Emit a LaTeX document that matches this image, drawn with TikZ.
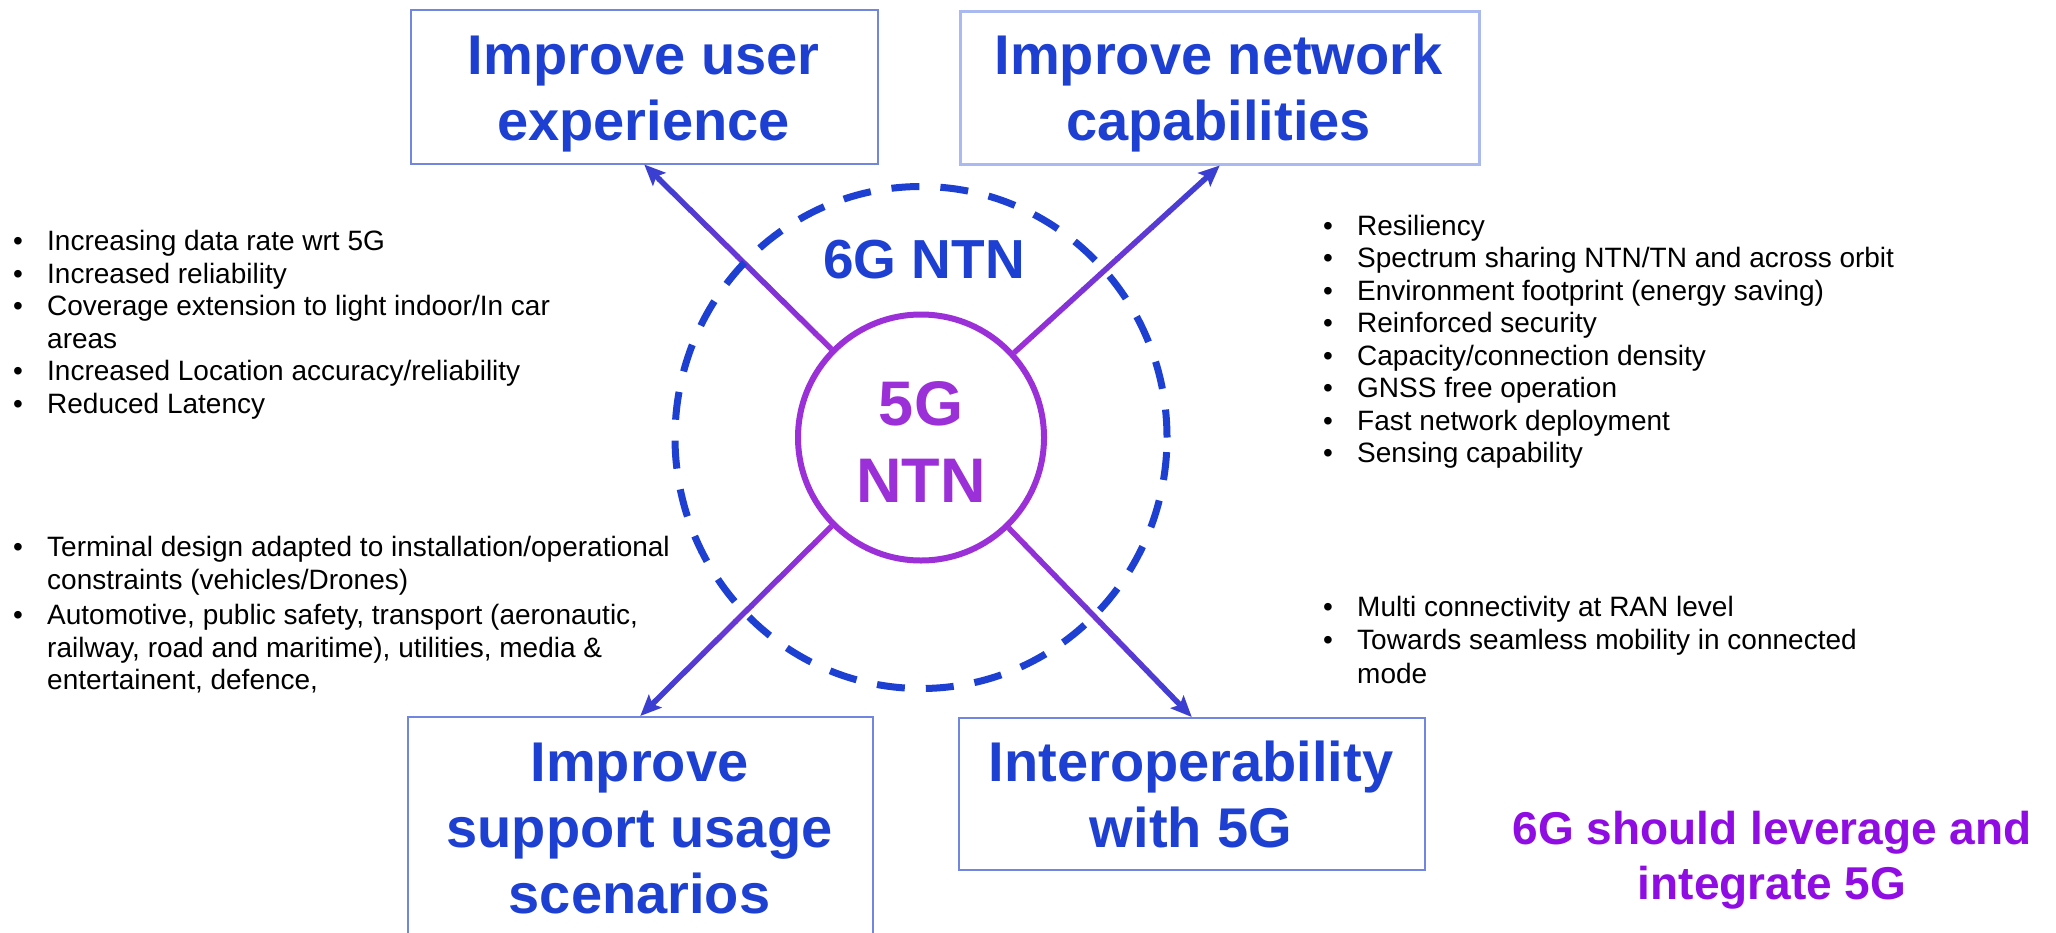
\documentclass[tikz,border=0pt]{standalone}
\usepackage{fontspec}
\setmainfont{Liberation Sans}
\usetikzlibrary{arrows.meta,calc,shapes.geometric}
\definecolor{tblue}{RGB}{30,64,210}
\definecolor{npurple}{RGB}{155,47,216}
\definecolor{ablue}{RGB}{58,63,210}
\definecolor{dblue}{RGB}{30,64,210}
\definecolor{bordblue}{RGB}{112,134,224}
\definecolor{bordlight}{RGB}{170,186,240}
\definecolor{lpurple}{RGB}{143,12,226}
\newcommand\bul{\makebox[34pt][l]{•}}
\newcommand\cont{\hspace*{34pt}}
\tikzset{
  goalbox/.style={draw=bordblue, line width=1.5pt, inner sep=0pt, anchor=north west},
  goaltext/.style={text=tblue, anchor=base, inner sep=0pt, font=\bfseries\fontsize{56}{66}\selectfont},
  bullets/.style={anchor=base west, inner sep=0pt, text=black, font=\fontsize{28}{32.5}\selectfont},
  arrowline/.style={line width=5.5pt, line cap=butt},
}
\newcommand\gradarrow[3]{%
  \path (#1) -- (#2) coordinate[pos=0] (#3a) coordinate[pos=1] (#3b);
  \foreach \kk in {0,...,10}{%
    \pgfmathsetmacro\pa{\kk/12}%
    \pgfmathsetmacro\pb{(\kk+1)/12+0.004}%
    \pgfmathtruncatemacro\mx{100-\kk*9}%
    \draw[arrowline, draw=npurple!\mx!ablue] ($(#3a)!\pa!(#3b)$) -- ($(#3a)!\pb!(#3b)$);
  }%
  \draw[arrowline, draw=ablue, -{Stealth[length=21pt,width=18pt,inset=4pt]}] ($(#3a)!0.9166!(#3b)$) -- (#3b);
}
\begin{document}
\begin{tikzpicture}[x=1pt,y=-1pt]
\useasboundingbox (0,0) rectangle (2056,932);
\fill[white] (0,0) rectangle (2056,932);
\clip (0,0) rectangle (2056,932);

% goal boxes
\node[goalbox, minimum width=467pt, minimum height=154pt] (ue) at (410,9) {};
\node[goalbox, draw=bordlight, line width=2.5pt, minimum width=519pt, minimum height=153pt] (nc) at (959,10) {};
\node[goalbox, minimum width=465pt, minimum height=222pt] (su) at (407,716) {};
\node[goalbox, minimum width=466pt, minimum height=152pt] (io) at (958,717) {};

\node[goaltext] (ueT) at (643.5,74) {\parbox[t]{460pt}{\centering Improve user\\experience}};
\node[goaltext] (ncT) at (1218.5,74) {\parbox[t]{510pt}{\centering Improve network\\capabilities}};
\node[goaltext] (suT) at (639.5,781) {\parbox[t]{460pt}{\centering Improve\\support usage\\scenarios}};
\node[goaltext] (ioT) at (1191,781) {\parbox[t]{460pt}{\centering Interoperability\\with 5G}};

% central 5G NTN
\node[circle, draw=npurple, line width=6pt, minimum size=246pt, inner sep=0pt] (c5) at (921,437.5) {};
\node[anchor=base, inner sep=0pt, text=npurple, font=\bfseries\fontsize{63}{77}\selectfont] (c5T) at (921,425) {\parbox[t]{200pt}{\centering 5G\\NTN}};

% arrows
\gradarrow{c5}{ue.south}{aue}
\gradarrow{c5}{nc.south}{anc}
\gradarrow{c5}{su.north}{asu}
\gradarrow{c5}{io.north}{aio}

% 6G NTN dashed
\node[ellipse, draw=dblue, line width=7pt, dash pattern=on 28pt off 21pt, minimum width=492pt, minimum height=502pt, inner sep=0pt] (c6) at (921,437.5) {};
\node[anchor=base, inner sep=0pt, text=tblue, font=\bfseries\fontsize{55}{60}\selectfont] (c6T) at (924,278.5) {6G NTN};

% bullet lists
\node[bullets] (lst1) at (13,250.7) {\parbox[t]{640pt}{\raggedright
\bul Increasing data rate wrt 5G\\
\bul Increased reliability\\
\bul Coverage extension to light indoor/In car\\
\cont areas\\
\bul Increased Location accuracy/reliability\\
\bul Reduced Latency}};

\node[bullets] (lst2) at (13,556.7) {\parbox[t]{680pt}{\raggedright
\bul Terminal design adapted to installation/operational\\
\cont constraints (vehicles/Drones)\\[3pt]
\bul Automotive, public safety, transport (aeronautic,\\
\cont railway, road and maritime), utilities, media \&\\
\cont entertainent, defence,}};

\node[bullets] (rst1) at (1323,235) {\parbox[t]{700pt}{\raggedright
\bul Resiliency\\
\bul Spectrum sharing NTN/TN and across orbit\\
\bul Environment footprint (energy saving)\\
\bul Reinforced security\\
\bul Capacity/connection density\\
\bul GNSS free operation\\
\bul Fast network deployment\\
\bul Sensing capability}};

\node[bullets] (rst2) at (1323,616) {\parbox[t]{700pt}{\raggedright
\bul Multi connectivity at RAN level\\[1pt]
\bul Towards seamless mobility in connected\\[1pt]
\cont mode}};

% bottom-right message
\node[anchor=base, inner sep=0pt, text=lpurple, font=\bfseries\fontsize{46}{55}\selectfont] (msg) at (1772,844) {\parbox[t]{600pt}{\centering 6G should leverage and\\integrate 5G}};
\end{tikzpicture}
\end{document}
